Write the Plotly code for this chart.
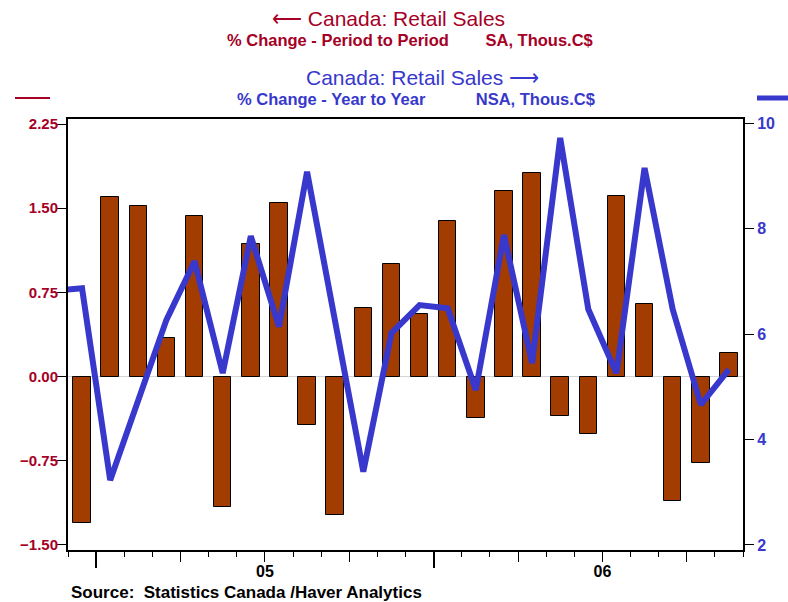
import plotly.graph_objects as go

RED = "#A50026"
BLUE = "#3838CC"
BAR = "#A33C00"
FONT = "Liberation Sans, Arial, sans-serif"

# months shown on the axis (Nov 04 only feeds the line entering from the left)
months = ["2004-11", "2004-12",
          "2005-01", "2005-02", "2005-03", "2005-04", "2005-05", "2005-06",
          "2005-07", "2005-08", "2005-09", "2005-10", "2005-11", "2005-12",
          "2006-01", "2006-02", "2006-03", "2006-04", "2006-05", "2006-06",
          "2006-07", "2006-08", "2006-09", "2006-10", "2006-11"]

# % change period to period, SA (Dec 04 .. Nov 06)
mom_months = months[1:]
mom = [-1.30, 1.60, 1.52, 0.34, 1.43, -1.16, 1.18, 1.55, -0.43, -1.23, 0.61, 1.00,
       0.56, 1.39, -0.37, 1.65, 1.81, -0.35, -0.51, 1.61, 0.65, -1.11, -0.77, 0.21]

# % change year to year, NSA (Nov 04 .. Nov 06)
yoy = [6.82, 6.87, 3.23, 4.75, 6.27, 7.38, 5.26, 7.86, 6.14, 9.08, 6.24, 3.39, 6.02,
       6.55, 6.49, 4.94, 7.88, 5.45, 9.72, 6.47, 5.26, 9.15, 6.47, 4.66, 5.33]

year_labels = ["05", "06"]

idx = {m: i for i, m in enumerate(months)}
xb = [idx[m] for m in mom_months]
xl = [idx[m] for m in months]
year_start = [idx["2005-01"] - 0.5, idx["2006-01"] - 0.5]
year_mid = [s + 6 for s in year_start]
xr = [0.5, len(months) - 0.5]

L, R, T, B = 68, 45, 119, 52
PW, PH = 788 - L - R, 602 - T - B


def px(x):
    return (x - L) / PW


def py(y):
    return 1 - (y - T) / PH


fig = go.Figure()
fig.add_trace(go.Bar(
    x=xb, y=mom, width=0.62,
    marker=dict(color=BAR, line=dict(color="black", width=1)),
    xaxis="x", yaxis="y",
))
fig.add_trace(go.Scatter(
    x=xl, y=yoy, mode="lines",
    line=dict(color=BLUE, width=6),
    xaxis="x", yaxis="y2",
))
# empty traces so the overlay x axes render
fig.add_trace(go.Scatter(x=[None], y=[None], xaxis="x3", yaxis="y", hoverinfo="skip"))
fig.add_trace(go.Scatter(x=[None], y=[None], xaxis="x4", yaxis="y", hoverinfo="skip"))

fig.update_layout(
    width=788, height=602,
    margin=dict(l=L, r=R, t=T, b=B),
    paper_bgcolor="white", plot_bgcolor="white",
    showlegend=False,
    font=dict(family=FONT, color="black"),
    xaxis=dict(
        range=xr, showgrid=False, zeroline=False, automargin=False,
        showline=True, linecolor="black", linewidth=2, mirror=True,
        tickmode="linear", tick0=1.5, dtick=3, ticks="outside", ticklen=10,
        tickcolor="black", tickwidth=1, showticklabels=False,
        minor=dict(tickmode="linear", tick0=0.5, dtick=1, ticks="outside",
                   ticklen=5, tickcolor="black", tickwidth=1),
    ),
    xaxis3=dict(
        overlaying="x", range=xr, showgrid=False, zeroline=False, showline=False,
        automargin=False,
        tickmode="array", tickvals=year_start, ticks="outside", ticklen=17,
        tickwidth=2, tickcolor="black", showticklabels=False,
    ),
    xaxis4=dict(
        overlaying="x", range=xr, showgrid=False, zeroline=False, showline=False,
        automargin=False,
        tickmode="array", tickvals=year_mid, ticktext=year_labels, ticks="",
        ticklabelstandoff=10,
        tickfont=dict(size=16, color="black", family=FONT, weight="bold"),
    ),
    yaxis=dict(
        range=[-1.545, 2.295], tickmode="linear", tick0=0, dtick=0.75,
        tickformat=".2f", showgrid=False, automargin=False,
        zeroline=True, zerolinecolor="#D4D4D4", zerolinewidth=1,
        showline=True, linecolor="black", linewidth=2,
        ticks="outside", ticklen=9, tickcolor="black", ticklabelstandoff=-4,
        tickfont=dict(size=15, color=RED, family=FONT, weight="bold"),
    ),
    yaxis2=dict(
        overlaying="y", side="right", range=[1.905, 10.08], automargin=False,
        tickmode="linear", tick0=2, dtick=2, showgrid=False, zeroline=False,
        showline=True, linecolor="black", linewidth=2,
        ticks="outside", ticklen=9, tickcolor="black",
        tickfont=dict(size=16, color=BLUE, family=FONT, weight="bold"),
    ),
    bargap=0,
)

titles = [
    ("⟵ Canada: Retail Sales", 388, 18, 21, RED, "normal"),
    ("% Change - Period to Period&nbsp;&nbsp;&nbsp;&nbsp;&nbsp;&nbsp;&nbsp;&nbsp;SA, Thous.C$",
     410, 40, 16.5, RED, "bold"),
    ("Canada: Retail Sales ⟶", 422, 77, 21, BLUE, "normal"),
    ("% Change - Year to Year&nbsp;&nbsp;&nbsp;&nbsp;&nbsp;&nbsp;&nbsp;&nbsp;&nbsp;&nbsp;&nbsp;NSA, Thous.C$",
     416, 99, 16.5, BLUE, "bold"),
]
for text, x, y, size, color, weight in titles:
    fig.add_annotation(
        text=text, xref="paper", yref="paper", x=px(x), y=py(y),
        xanchor="center", yanchor="middle", showarrow=False,
        font=dict(size=size, color=color, family=FONT, weight=weight),
    )

fig.add_annotation(
    text="Source:  Statistics Canada /Haver Analytics",
    xref="paper", yref="paper", x=px(69), y=py(592),
    xanchor="left", yanchor="middle", showarrow=False,
    font=dict(size=17, color="black", family=FONT, weight="bold"),
)

# legend keys at the axis tops
fig.add_shape(type="line", xref="paper", yref="paper",
              x0=px(15), x1=px(50), y0=py(98), y1=py(98),
              line=dict(color=RED, width=2))
fig.add_shape(type="line", xref="paper", yref="paper",
              x0=px(757), x1=px(792), y0=py(98), y1=py(98),
              line=dict(color=BLUE, width=5))

# page body has a default 8px margin; drop it so the figure fills the window
fig.write_html("out.html", config={"displayModeBar": False},
               post_script="document.body.style.margin='0';")
